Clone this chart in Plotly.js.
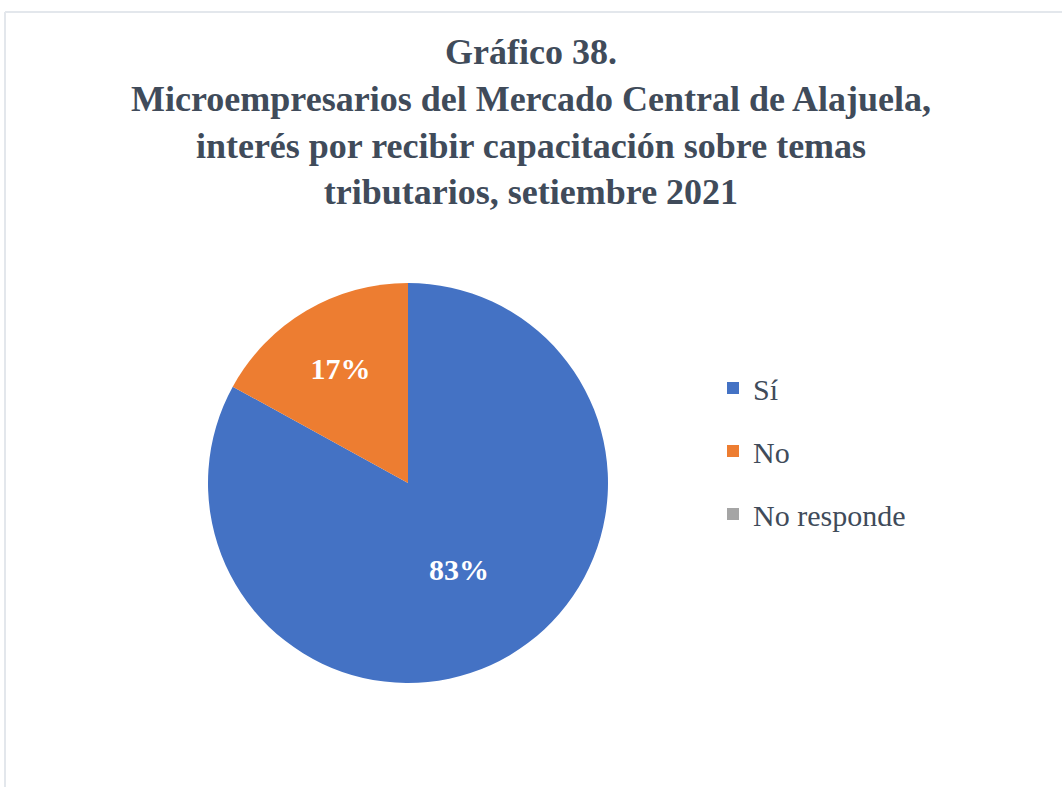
<!DOCTYPE html>
<html>
<head>
<meta charset="utf-8">
<script src="https://cdn.plot.ly/plotly-3.0.1.min.js"></script>
<style>
  html, body { margin: 0; padding: 0; background: #fff; }
  #chart { width: 1062px; height: 787px; }
</style>
</head>
<body>
<div id="chart"></div>
<script>
// respuestas y porcentajes
const labels = ['Sí', 'No', 'No responde'];
const values = [83, 17, 0];
const colors = ['#4472C4', '#ED7D31', '#A5A5A5'];

const titleLines = [
    'Gráfico 38.',
    'Microempresarios del Mercado Central de Alajuela,',
    'interés por recibir capacitación sobre temas',
    'tributarios, setiembre 2021'
];

const W = 1062, H = 787;

const pie = {
    type: 'pie',
    labels: labels,
    values: values,
    sort: false,
    direction: 'clockwise',
    rotation: 0,
    marker: { colors: colors, line: { width: 0 } },
    texttemplate: '%{percent:.0%}',
    textposition: 'inside',
    insidetextorientation: 'horizontal',
    textfont: { family: 'Liberation Serif', size: 30, color: '#ffffff', weight: 'bold' },
    hoverinfo: 'label+percent',
    domain: { x: [208 / W, 608 / W], y: [1 - 683 / H, 1 - 283 / H] }
};

// invisible helper trace: gives the legend a named group, so every slice
// becomes its own group and tracegroupgap spaces them out
const spacer = {
    type: 'scatter',
    x: [0],
    y: [0],
    mode: 'markers',
    marker: { opacity: 0, size: 0, color: 'rgba(0,0,0,0)', line: { width: 0 } },
    name: ' ',
    legendgroup: 'spacer',
    hoverinfo: 'skip'
};

const layout = {
    width: W,
    height: H,
    margin: { l: 0, r: 0, t: 0, b: 0 },
    paper_bgcolor: '#ffffff',
    plot_bgcolor: 'rgba(0,0,0,0)',
    xaxis: { visible: false },
    yaxis: { visible: false },
    title: {
        text: '<b>' + titleLines.join('<br>') + '</b>',
        font: { family: 'Liberation Serif', size: 36, color: '#404b5a' },
        x: 0.5,
        xanchor: 'center',
        yref: 'container',
        y: 1 - 64 / H,
        yanchor: 'top'
    },
    showlegend: true,
    legend: {
        x: 713 / W,
        xanchor: 'left',
        y: 1 - 362 / H,
        yanchor: 'top',
        traceorder: 'grouped',
        tracegroupgap: 21,
        font: { family: 'Liberation Serif', size: 30, color: '#404b5a' },
        bgcolor: 'rgba(0,0,0,0)'
    },
    shapes: [
        { type: 'line', xref: 'paper', yref: 'paper', x0: 5 / W, x1: 5 / W, y0: 0, y1: 1 - 12 / H,
          line: { color: '#e3e7ec', width: 2 } },
        { type: 'line', xref: 'paper', yref: 'paper', x0: 5 / W, x1: 1, y0: 1 - 12 / H, y1: 1 - 12 / H,
          line: { color: '#e3e7ec', width: 2 } }
    ]
};

Plotly.newPlot('chart', [pie, spacer], layout, { displayModeBar: false, staticPlot: true });
</script>
</body>
</html>
